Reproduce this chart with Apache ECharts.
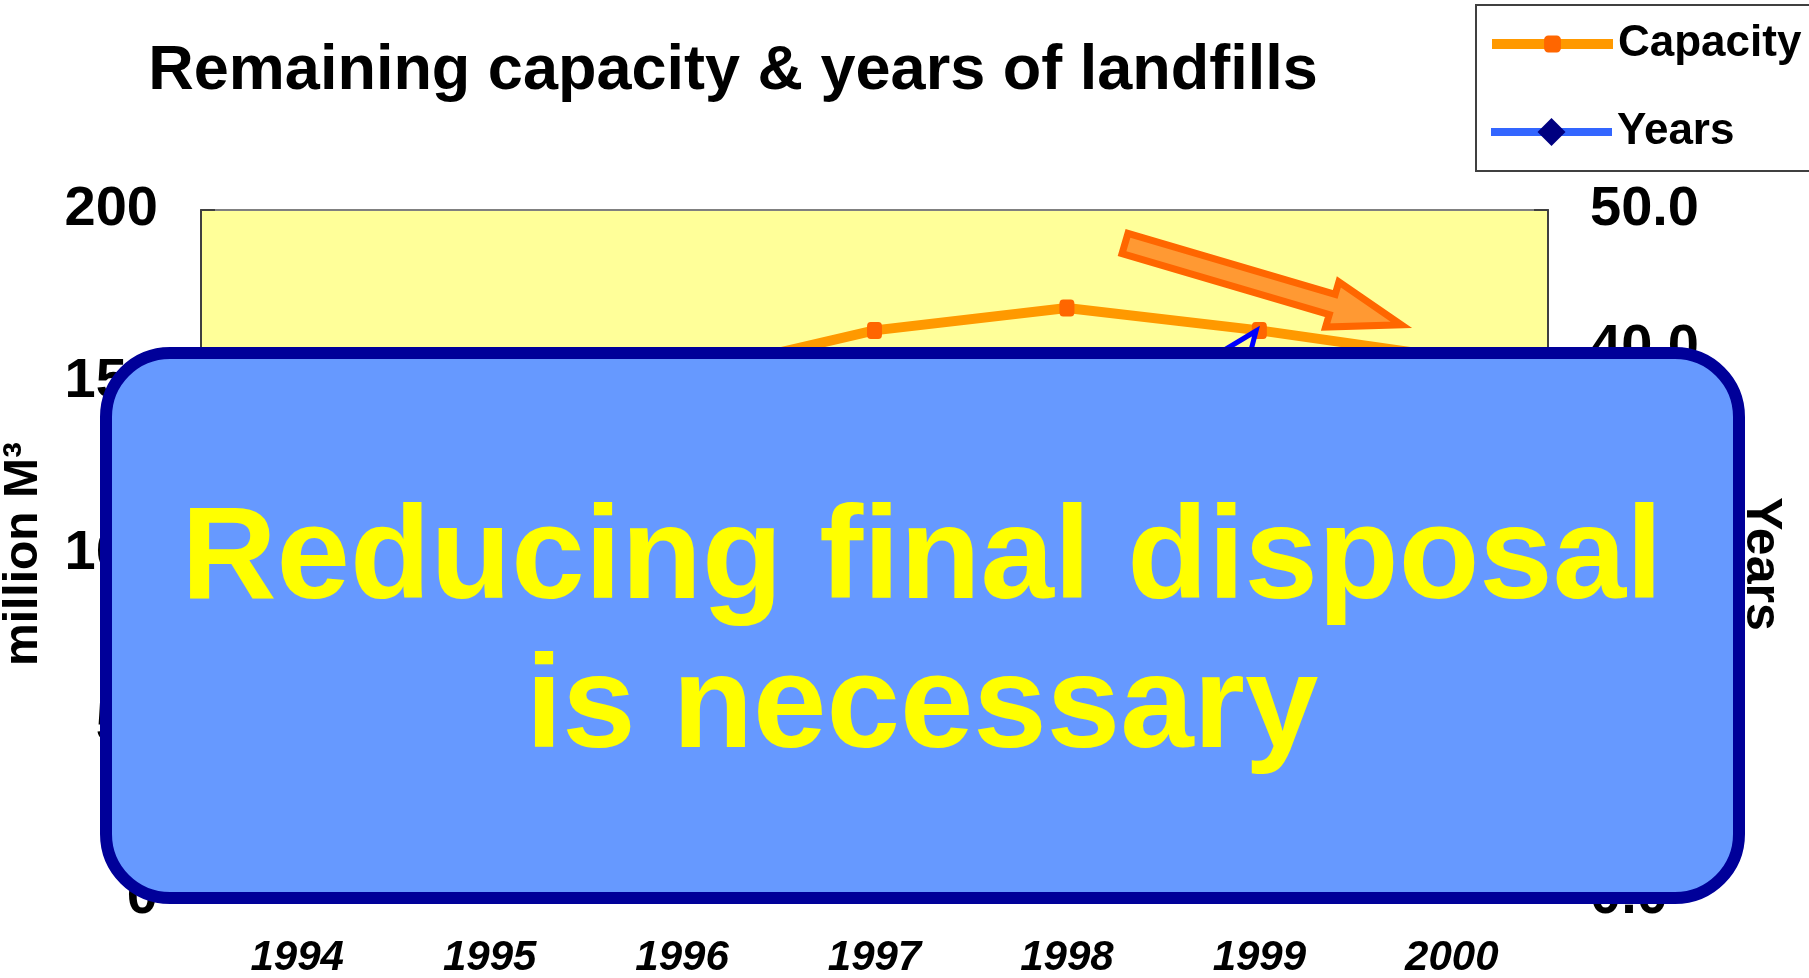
<!DOCTYPE html>
<html>
<head>
<meta charset="utf-8">
<title>Remaining capacity & years of landfills</title>
<script src="https://cdn.jsdelivr.net/npm/echarts@6/dist/echarts.min.js"></script>
<style>
  html, body { margin: 0; padding: 0; background: #fff; }
  #main { width: 1809px; height: 978px; }
</style>
</head>
<body>
<div id="main"></div>
<script>
// data (1994-1996 and the whole Years line sit under the box)
var categories = ["1994", "1995", "1996", "1997", "1998", "1999", "2000"];
var capacity = [141, 142, 152, 165, 171.5, 165, 157];      // million m3, left axis
var remainYears = [8.5, 8.5, 8.8, 11.2, 12.3, 12.3, 12.2]; // years, right axis
var leftTicks = [0, 50, 100, 150, 200];
var rightTicks = [0, 10, 20, 30, 40, 50];

var sans = "'Liberation Sans', Arial, sans-serif";

var chart = echarts.init(document.getElementById("main"));

var legendText = { fontFamily: sans, fontWeight: "bold", fontSize: 44, lineHeight: 50, color: "#000" };

var option = {
  animation: false,
  backgroundColor: "#fff",
  title: {
    text: "Remaining capacity & years of landfills",
    left: 728,
    top: 35,
    textAlign: "center",
    textStyle: { fontFamily: sans, fontWeight: "bold", fontSize: 63, color: "#000" }
  },
  legend: [
    {
      data: ["Capacity"],
      left: 1487, top: 19, padding: 0,
      itemWidth: 121, itemHeight: 21,
      lineStyle: { width: 10 },
      textStyle: legendText
    },
    {
      data: ["Years"],
      left: 1487, top: 107, padding: 0,
      itemWidth: 121, itemHeight: 35,
      lineStyle: { width: 8 },
      textStyle: legendText
    }
  ],
  grid: {
    left: 201, right: 261, top: 210, bottom: 80,
    outerBoundsMode: "none",
    containLabel: false,
    show: true, backgroundColor: "#FFFF99", borderColor: "#808080", borderWidth: 2
  },
  xAxis: {
    type: "category",
    data: categories,
    axisLine: { show: true, lineStyle: { color: "#808080", width: 2 } },
    axisTick: { show: false },
    axisLabel: { margin: 39, fontFamily: sans, fontStyle: "italic", fontWeight: "bold", fontSize: 42, color: "#000" }
  },
  yAxis: [
    {
      type: "value",
      min: leftTicks[0], max: leftTicks[leftTicks.length - 1], interval: leftTicks[1] - leftTicks[0],
      name: "million M³", nameLocation: "middle", nameRotate: 90, nameGap: 153,
      nameTextStyle: { fontFamily: sans, fontWeight: "bold", fontSize: 48, color: "#000" },
      axisLine: { show: true, lineStyle: { color: "#404040", width: 2 } },
      axisTick: { show: true, inside: true, length: 14, lineStyle: { color: "#404040", width: 2 } },
      splitLine: { show: false },
      axisLabel: { margin: 43, fontFamily: sans, fontWeight: "bold", fontSize: 56, color: "#000" }
    },
    {
      type: "value", position: "right",
      min: rightTicks[0], max: rightTicks[rightTicks.length - 1], interval: rightTicks[1] - rightTicks[0],
      name: "Years", nameLocation: "middle", nameRotate: -90, nameGap: 188,
      nameTextStyle: { fontFamily: sans, fontWeight: "bold", fontSize: 50, color: "#000", padding: [0, 0, 0, 20] },
      axisLine: { show: true, lineStyle: { color: "#404040", width: 2 } },
      axisTick: { show: true, inside: true, length: 14, lineStyle: { color: "#404040", width: 2 } },
      splitLine: { show: false },
      axisLabel: {
        margin: 42, fontFamily: sans, fontWeight: "bold", fontSize: 56, color: "#000",
        formatter: function (v) { return v.toFixed(1); }
      }
    }
  ],
  series: [
    {
      name: "Capacity", type: "line", yAxisIndex: 0, data: capacity,
      symbol: "roundRect", symbolSize: [15, 17],
      lineStyle: { color: "#FF9900", width: 10 },
      itemStyle: { color: "#FF6600" }
    },
    {
      name: "Years", type: "line", yAxisIndex: 1, data: remainYears,
      symbol: "diamond", symbolSize: [28, 30],
      lineStyle: { color: "#3366FF", width: 8 },
      itemStyle: { color: "#000080" }
    }
  ],
  graphic: [
    // legend frame
    {
      type: "rect", z: 1,
      shape: { x: 1476, y: 5, width: 400, height: 166 },
      style: { fill: "none", stroke: "#404040", lineWidth: 2 }
    },
    // orange block arrow
    {
      type: "polygon", z: 50,
      x: 1125, y: 243.5, rotation: -0.2862,
      shape: { points: [[0, -10.5], [216, -10.5], [216, -23.5], [288, 0], [216, 23.5], [216, 10.5], [0, 10.5]] },
      style: { fill: "#FF9933", stroke: "#FF6600", lineWidth: 7, lineJoin: "miter" }
    },
    // blue arrow head, mostly under the box
    {
      type: "polygon", z: 50,
      shape: { points: [[1256, 331], [1211, 358], [1249, 358]] },
      style: { fill: "#FFFF99", stroke: "#0000FF", lineWidth: 5 }
    },
    // message box
    {
      type: "rect", z: 100,
      shape: { x: 106, y: 353, width: 1633, height: 545, r: 64 },
      style: { fill: "#6699FF", stroke: "#000099", lineWidth: 12 }
    },
    {
      type: "text", z: 101, x: 922, y: 562,
      style: { text: "Reducing final disposal", fill: "#FFFF00", fontFamily: sans, fontWeight: "bold", fontSize: 132, align: "center", verticalAlign: "middle" }
    },
    {
      type: "text", z: 101, x: 922, y: 711,
      style: { text: "is necessary", fill: "#FFFF00", fontFamily: sans, fontWeight: "bold", fontSize: 132, align: "center", verticalAlign: "middle" }
    }
  ]
};

chart.setOption(option);
</script>
</body>
</html>
